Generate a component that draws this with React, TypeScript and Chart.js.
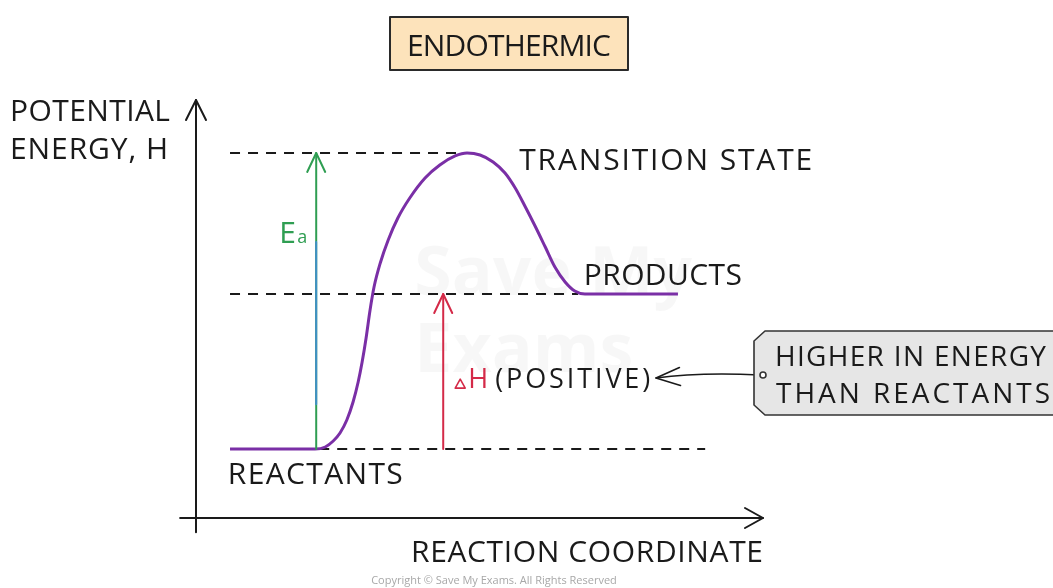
import React, { useEffect, useRef } from "react";
import { Chart, registerables } from "chart.js";

Chart.register(...registerables);

// Reaction profile (reaction coordinate vs potential energy)
const reactionCoordinate = [0.6, 1.83, 2.1, 2.28, 2.42, 2.54, 2.66, 2.77, 2.86, 2.93, 3.0, 3.07, 3.14, 3.25, 3.39, 3.56, 3.77, 4.04, 4.3, 4.57, 4.78, 5.01, 5.24, 5.45, 5.63, 5.8, 5.98, 6.16, 6.33, 6.51, 6.68, 6.86, 8.5];
const potentialEnergy = [17, 17, 17, 17.5, 18.97, 20.95, 24.15, 28.59, 33.51, 38.44, 44.36, 51.26, 56.92, 62.84, 68.51, 73.93, 78.86, 83.79, 86.99, 89.21, 89.95, 89.45, 87.73, 85.02, 81.32, 76.89, 71.96, 66.78, 61.85, 58.16, 55.94, 55.2, 55.2];

// Energy levels
const reactantsEnergy = 17;
const productsEnergy = 55.2;
const transitionEnergy = 89.95;

// Arrow positions on the reaction coordinate
const activationX = 2.12;
const deltaHX = 4.36;
const levelLineStart = 0.6;
const transitionLineEnd = 4.74;
const productsLineEnd = 6.74;
const reactantsLineStart = 2.12;
const reactantsLineEnd = 8.98;

// Axis extents
const xMin = 0;
const xMax = 10;
const yMin = 0;
const yMax = 103;

// Texts
const titleText = "ENDOTHERMIC";
const yAxisTitle = ["POTENTIAL", "ENERGY, H"];
const xAxisTitle = "REACTION COORDINATE";
const transitionLabel = "TRANSITION STATE";
const productsLabel = "PRODUCTS";
const reactantsLabel = "REACTANTS";
const deltaHLabel = "(POSITIVE)";
const calloutLines = ["HIGHER IN ENERGY", "THAN REACTANTS"];
const copyrightText = "Copyright © Save My Exams. All Rights Reserved";

const FONT = "'Open Sans', 'DejaVu Sans', sans-serif";

function fitText(ctx: CanvasRenderingContext2D, text: string, x: number, y: number, width: number, size: number, color: string, weight = "400") {
  ctx.save();
  ctx.font = `${weight} ${size}px ${FONT}`;
  (ctx as any).letterSpacing = "0px";
  const w = ctx.measureText(text).width;
  const n = text.length;
  const ls = n > 1 ? (width - w) / (n - 1) : 0;
  (ctx as any).letterSpacing = `${ls}px`;
  ctx.fillStyle = color;
  ctx.textAlign = "left";
  ctx.textBaseline = "alphabetic";
  ctx.fillText(text, x, y);
  ctx.restore();
}

function arrowHead(ctx: CanvasRenderingContext2D, tx: number, ty: number, dx: number, dy: number, len: number, spread: number) {
  const m = Math.hypot(dx, dy);
  const ux = dx / m, uy = dy / m;
  const px = -uy, py = ux;
  ctx.beginPath();
  ctx.moveTo(tx - ux * len + px * spread, ty - uy * len + py * spread);
  ctx.lineTo(tx, ty);
  ctx.lineTo(tx - ux * len - px * spread, ty - uy * len - py * spread);
  ctx.stroke();
}

const diagramPlugin = {
  id: "diagram",
  beforeDatasetsDraw(chart: any) {
    const ctx: CanvasRenderingContext2D = chart.ctx;
    const xs = chart.scales.x, ys = chart.scales.y;
    const X = (v: number) => xs.getPixelForValue(v);
    const Y = (v: number) => ys.getPixelForValue(v);
    ctx.save();

    // faint watermark
    ctx.fillStyle = "rgba(0,0,0,0.03)";
    ctx.font = `700 68px ${FONT}`;
    ctx.textAlign = "left";
    ctx.fillText("Save My", X(3.85), Y(55));
    ctx.fillText("Exams", X(3.85), Y(36));

    ctx.strokeStyle = "#1a1a1a";
    ctx.lineWidth = 2;
    ctx.setLineDash([10, 8]);
    ctx.beginPath();
    ctx.moveTo(X(levelLineStart), Y(transitionEnergy));
    ctx.lineTo(X(transitionLineEnd), Y(transitionEnergy));
    ctx.moveTo(X(levelLineStart), Y(productsEnergy));
    ctx.lineTo(X(productsLineEnd), Y(productsEnergy));
    ctx.moveTo(X(reactantsLineStart) + 3, Y(reactantsEnergy));
    ctx.lineTo(X(reactantsLineEnd), Y(reactantsEnergy));
    ctx.stroke();
    ctx.restore();
  },
  afterDatasetsDraw(chart: any) {
    const ctx: CanvasRenderingContext2D = chart.ctx;
    const xs = chart.scales.x, ys = chart.scales.y;
    const X = (v: number) => xs.getPixelForValue(v);
    const Y = (v: number) => ys.getPixelForValue(v);
    ctx.save();
    ctx.lineCap = "round";
    ctx.lineJoin = "round";

    // Axes
    ctx.strokeStyle = "#1a1a1a";
    ctx.lineWidth = 2;
    ctx.beginPath();
    ctx.moveTo(X(xMin), Y(-3.5));
    ctx.lineTo(X(xMin), Y(yMax));
    ctx.moveTo(X(-0.28), Y(yMin));
    ctx.lineTo(X(xMax), Y(yMin));
    ctx.stroke();
    arrowHead(ctx, X(xMin), Y(yMax), 0, -1, 20, 10);
    arrowHead(ctx, X(xMax), Y(yMin), 1, 0, 18, 10);

    // Ea arrow (green with blue middle section)
    const eaX = X(activationX);
    ctx.lineWidth = 2;
    ctx.strokeStyle = "#2f9e52";
    ctx.beginPath();
    ctx.moveTo(eaX, Y(reactantsEnergy));
    ctx.lineTo(eaX, Y(transitionEnergy));
    ctx.stroke();
    ctx.strokeStyle = "#3f8fc8";
    ctx.beginPath();
    ctx.moveTo(eaX, Y(68));
    ctx.lineTo(eaX, Y(28));
    ctx.stroke();
    ctx.strokeStyle = "#2f9e52";
    arrowHead(ctx, eaX, Y(transitionEnergy), 0, -1, 19, 9);

    // Delta H arrow
    const dhX = X(deltaHX);
    ctx.strokeStyle = "#d42a48";
    ctx.beginPath();
    ctx.moveTo(dhX, Y(reactantsEnergy));
    ctx.lineTo(dhX, Y(productsEnergy));
    ctx.stroke();
    arrowHead(ctx, dhX, Y(productsEnergy), 0, -1, 19, 9);

    // Labels
    const textColor = "#1a1a1a";
    fitText(ctx, yAxisTitle[0], 10, Y(yMax) + 21, 160, 30, textColor);
    fitText(ctx, yAxisTitle[1], 10, Y(yMax) + 59, 158, 30, textColor);
    fitText(ctx, transitionLabel, X(5.7), Y(transitionEnergy) + 17, 293, 30, textColor);
    fitText(ctx, productsLabel, X(6.84), Y(productsEnergy) - 9, 158, 30, textColor);
    fitText(ctx, reactantsLabel, X(0.56), Y(reactantsEnergy) + 35, 175, 30, textColor);
    fitText(ctx, xAxisTitle, X(xMax) - 352, Y(yMin) + 44, 352, 30, textColor);

    // Ea label
    const green = "#2f9e52";
    fitText(ctx, "E", eaX - 37, Y(67.8), 16, 30, green);
    fitText(ctx, "a", eaX - 19, Y(67.8), 9, 18, green);

    // Delta H label
    const red = "#d42a48";
    const baseDH = Y(32);
    ctx.strokeStyle = red;
    ctx.lineWidth = 1.6;
    ctx.beginPath();
    ctx.moveTo(dhX + 12, baseDH);
    ctx.lineTo(dhX + 17, baseDH - 9);
    ctx.lineTo(dhX + 22, baseDH);
    ctx.closePath();
    ctx.stroke();
    fitText(ctx, "H", dhX + 25, baseDH, 19, 27, red);
    fitText(ctx, deltaHLabel, dhX + 52, baseDH, 155, 27, textColor);

    // Callout arrow
    ctx.strokeStyle = "#1a1a1a";
    ctx.lineWidth = 1.6;
    ctx.beginPath();
    ctx.moveTo(760, 375);
    ctx.quadraticCurveTo(700, 372, 656, 378);
    ctx.stroke();
    arrowHead(ctx, 656, 378, -1, 0.06, 24, 9);

    // Callout box
    ctx.fillStyle = "#e6e6e6";
    ctx.strokeStyle = "#333333";
    ctx.lineWidth = 1.6;
    ctx.beginPath();
    ctx.moveTo(765, 331);
    ctx.lineTo(1060, 331);
    ctx.lineTo(1060, 415);
    ctx.lineTo(765, 415);
    ctx.lineTo(754, 405);
    ctx.lineTo(754, 341);
    ctx.closePath();
    ctx.fill();
    ctx.stroke();
    ctx.fillStyle = "#ffffff";
    ctx.beginPath();
    ctx.arc(763, 375, 3, 0, Math.PI * 2);
    ctx.fill();
    ctx.stroke();
    fitText(ctx, calloutLines[0], 775, 366, 271, 28, textColor);
    fitText(ctx, calloutLines[1], 776, 403, 274, 28, textColor);

    // Title box
    ctx.fillStyle = "#fde3bb";
    ctx.strokeStyle = "#2a2a2a";
    ctx.lineWidth = 2;
    ctx.fillRect(390, 17, 238, 53);
    ctx.strokeRect(390, 17, 238, 53);
    fitText(ctx, titleText, 407, 56, 204, 30, textColor);

    // Copyright
    ctx.font = `400 11px ${FONT}`;
    ctx.fillStyle = "#a8a8a8";
    ctx.textAlign = "center";
    ctx.fillText(copyrightText, 494, 584);
    ctx.restore();
  },
};

export default function App() {
  const canvasRef = useRef<HTMLCanvasElement | null>(null);

  useEffect(() => {
    const canvas = canvasRef.current;
    if (!canvas) return;
    const chart = new Chart(canvas, {
      type: "line",
      data: {
        datasets: [
          {
            label: "Potential energy",
            data: reactionCoordinate.map((x, i) => ({ x, y: potentialEnergy[i] })),
            borderColor: "#7a2fa6",
            borderWidth: 3,
            pointRadius: 0,
            cubicInterpolationMode: "monotone",
            fill: false,
            clip: false as any,
          },
        ],
      },
      options: {
        responsive: false,
        animation: false,
        layout: { padding: { left: 196, right: 290, top: 100, bottom: 70 } },
        plugins: { legend: { display: false }, tooltip: { enabled: false }, title: { display: false } },
        scales: {
          x: { type: "linear", min: xMin, max: xMax, display: false },
          y: { type: "linear", min: yMin, max: yMax, display: false },
        },
        events: [],
      },
      plugins: [diagramPlugin],
    });
    return () => chart.destroy();
  }, []);

  return (
    <div style={{ position: "absolute", left: 0, top: 0, width: 1053, height: 588, background: "#ffffff" }}>
      <canvas ref={canvasRef} width={1053} height={588} style={{ display: "block", width: 1053, height: 588 }} />
    </div>
  );
}
